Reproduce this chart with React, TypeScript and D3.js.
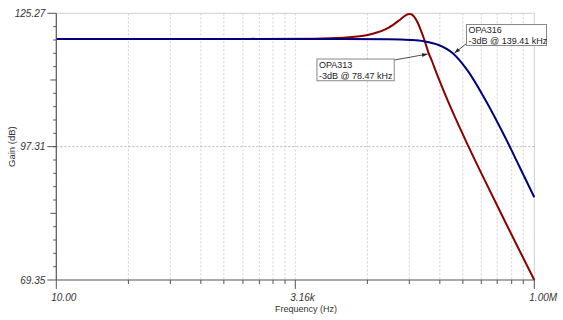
import React from "react";
import * as d3 from "d3";

// OPA313 response (Hz, dB)
const opa313Freq = [10, 100, 1000, 5000, 10000, 20000, 30000, 40000, 45000, 47500, 50000, 52500, 55000, 60000, 65000, 70000, 78470, 85000, 90000, 100000, 120000, 150000, 200000, 300000, 500000, 700000, 1000000];
const opa313Gain = [119.9, 119.9, 119.9, 119.96, 120.15, 120.92, 122.25, 124.03, 124.82, 125.06, 125.13, 124.99, 124.64, 123.39, 121.73, 119.99, 116.94, 115.27, 113.93, 111.56, 107.68, 103.22, 97.8, 90.44, 81.42, 75.53, 69.35];

// OPA316 response (Hz, dB)
const opa316Freq = [10, 100, 1000, 10000, 30000, 50000, 70000, 100000, 139410, 200000, 300000, 500000, 700000, 1000000];
const opa316Gain = [119.9, 119.9, 119.9, 119.89, 119.83, 119.68, 119.4, 118.62, 116.94, 113.3, 107.52, 99.11, 93.1, 86.7];

const xMajorTicks = [10, 3162.28, 1000000];
const xMajorLabels = ["10.00", "3.16k", "1.00M"];
const xGridFreqs = [56.8, 156, 325, 566, 896, 1331, 1849, 2470, 17960, 49300, 102800, 179000, 279000, 409000, 580000, 767000];
const yMajorTicks = [69.35, 97.31, 125.27];
const yMajorLabels = ["69.35", "97.31", "125.27"];

const notes = [
  { name: "OPA316", text: "-3dB @ 139.41 kHz", f: 139410, g: 116.94 },
  { name: "OPA313", text: "-3dB @ 78.47 kHz", f: 78470, g: 116.94 },
];

const W = 563;
const H = 320;
const left = 56.3;
const right = 534.3;
const top = 13.3;
const bottom = 280;

export default function App() {
  const x = d3.scaleLog().domain([10, 1000000]).range([left, right]);
  const y = d3.scaleLinear().domain([69.35, 125.27]).range([bottom, top]);

  const line = d3
    .line<[number, number]>()
    .x((d) => x(d[0]))
    .y((d) => y(d[1]))
    .curve(d3.curveMonotoneX);

  const red = opa313Freq.map((f, i) => [f, opa313Gain[i]] as [number, number]);
  const blue = opa316Freq.map((f, i) => [f, opa316Gain[i]] as [number, number]);

  // y minor ticks: 10 per half span
  const yStep = (125.27 - 69.35) / 20;
  const yMinor = d3.range(1, 20).map((i) => 69.35 + i * yStep);

  const font = "'Liberation Sans', Arial, sans-serif";
  const axisColor = "#555";

  const n316 = notes[0];
  const n313 = notes[1];
  const a316 = { x: x(n316.f) + 2, y: y(n316.g) };
  const a313 = { x: x(n313.f) - 1, y: y(n313.g) + 1 };
  const box316 = { x: a316.x + 12, y: a316.y - 28.5, w: 80, h: 21 };
  const box313 = { x: a313.x - 110.7, y: a313.y + 5, w: 77.3, h: 21.7 };

  return (
    <div style={{ position: "absolute", left: 0, top: 0 }}>
      <svg width={W} height={H} style={{ display: "block", background: "#fff" }}>
        <defs>
          <marker id="arr" viewBox="0 0 10 10" refX="10" refY="5" markerWidth="7" markerHeight="7" orient="auto">
            <path d="M0,1.5 L10,5 L0,8.5 Z" fill="#222" />
          </marker>
        </defs>
        {/* frame top/right */}
        <line x1={left} x2={right} y1={top} y2={top} stroke="#cfcfcf" />
        <line x1={right} x2={right} y1={top} y2={bottom} stroke="#cfcfcf" />
        {/* grid */}
        {xGridFreqs.map((f) => (
          <line key={"g" + f} x1={x(f)} x2={x(f)} y1={top} y2={bottom} stroke="#cfcfcf" strokeDasharray="2,2" />
        ))}
        <line x1={x(3162.28)} x2={x(3162.28)} y1={top} y2={bottom} stroke="#cfcfcf" strokeDasharray="2,2" />
        <line x1={left} x2={right} y1={y(97.31)} y2={y(97.31)} stroke="#b5b5b5" strokeDasharray="2,2" />

        {/* curves */}
        <path d={line(red) || ""} fill="none" stroke="#8b0000" strokeWidth={2} />
        <path d={line(blue) || ""} fill="none" stroke="#00007f" strokeWidth={2} />

        {/* axes */}
        <line x1={left} x2={left} y1={top} y2={bottom} stroke={axisColor} strokeWidth={1.2} />
        <line x1={left} x2={right} y1={bottom} y2={bottom} stroke={axisColor} strokeWidth={1.2} />
        {yMinor.map((v, i) => (
          <line key={"ym" + i} x1={left - (i === 4 || i === 14 ? 6 : 3)} x2={left} y1={y(v)} y2={y(v)} stroke={axisColor} />
        ))}
        {yMajorTicks.map((v, i) => (
          <g key={"yt" + v}>
            <line x1={left - 9} x2={left} y1={y(v)} y2={y(v)} stroke={axisColor} />
            <text x={left - 11} y={y(v) + 3.5} textAnchor="end" fontSize={10} fontStyle="italic" fill="#333" fontFamily={font}>
              {yMajorLabels[i]}
            </text>
          </g>
        ))}
        {xGridFreqs.map((f) => (
          <line key={"xt" + f} x1={x(f)} x2={x(f)} y1={bottom} y2={bottom + 4} stroke={axisColor} />
        ))}
        {xMajorTicks.map((f, i) => (
          <g key={"xm" + f}>
            <line x1={x(f)} x2={x(f)} y1={bottom} y2={bottom + 9} stroke={axisColor} />
            <text x={x(f) - 5} y={bottom + 21} fontSize={10} fontStyle="italic" fill="#333" fontFamily={font}>
              {xMajorLabels[i]}
            </text>
          </g>
        ))}
        <text x={306} y={312} textAnchor="middle" fontSize={9} fill="#333" fontFamily={font}>
          Frequency (Hz)
        </text>
        <text transform={`translate(14.5,${(top + bottom) / 2}) rotate(-90)`} textAnchor="middle" fontSize={9.5} fill="#333" fontFamily={font}>
          Gain (dB)
        </text>

        {/* annotations */}
        <line x1={box316.x} y1={box316.y + 19} x2={a316.x} y2={a316.y} stroke="#222" strokeWidth={0.8} markerEnd="url(#arr)" />
        <rect x={box316.x} y={box316.y} width={box316.w} height={box316.h} fill="#fff" stroke="#888" />
        <text x={box316.x + 2} y={box316.y + 8.5} fontSize={9} fill="#222" fontFamily={font}>{n316.name}</text>
        <text x={box316.x + 2} y={box316.y + 19} fontSize={9} fill="#222" fontFamily={font}>{n316.text}</text>

        <line x1={box313.x + box313.w} y1={box313.y + 1} x2={a313.x} y2={a313.y} stroke="#222" strokeWidth={0.8} markerEnd="url(#arr)" />
        <rect x={box313.x} y={box313.y} width={box313.w} height={box313.h} fill="#fff" stroke="#888" />
        <text x={box313.x + 2} y={box313.y + 9} fontSize={9} fill="#222" fontFamily={font}>{n313.name}</text>
        <text x={box313.x + 2} y={box313.y + 19.5} fontSize={9} fill="#222" fontFamily={font}>{n313.text}</text>
      </svg>
    </div>
  );
}
